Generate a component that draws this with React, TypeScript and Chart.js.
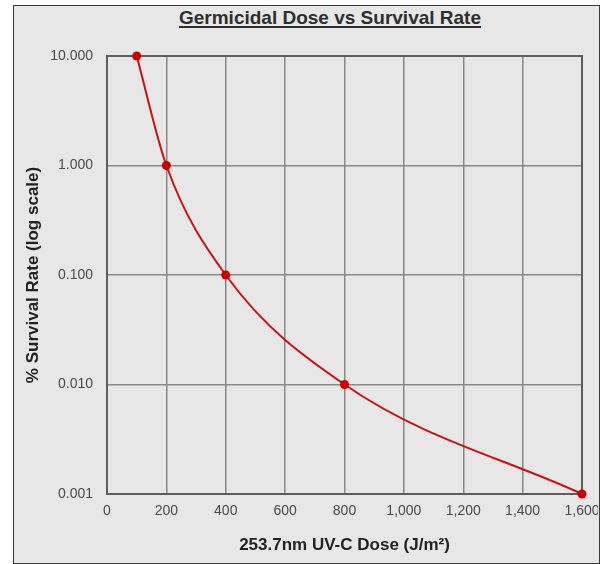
import React, { useEffect, useRef } from "react";
import { Chart, registerables } from "chart.js";

Chart.register(...registerables);

const doses = [100, 200, 400, 800, 1600];
const survival = [10, 1, 0.1, 0.01, 0.001];
const xTicks = [0, 200, 400, 600, 800, 1000, 1200, 1400, 1600];
const yTicks = [0.001, 0.01, 0.1, 1, 10];
const titleText = "Germicidal Dose vs Survival Rate";
const xTitle = "253.7nm UV-C Dose (J/m²)";
const yTitle = "% Survival Rate (log scale)";

const FONT = "'Liberation Sans', Arial, sans-serif";

const framePlugin = {
  id: "frame",
  beforeDatasetsDraw(chart: any) {
    const { ctx, chartArea } = chart;
    ctx.save();
    ctx.strokeStyle = "#5e5e5e";
    ctx.lineWidth = 2;
    ctx.strokeRect(
      chartArea.left,
      chartArea.top,
      chartArea.right - chartArea.left,
      chartArea.bottom - chartArea.top
    );
    ctx.restore();
  },
};

export default function App() {
  const ref = useRef<HTMLCanvasElement | null>(null);

  useEffect(() => {
    if (!ref.current) return;
    const chart = new Chart(ref.current, {
      type: "scatter",
      data: {
        datasets: [
          {
            data: doses.map((d, i) => ({ x: d, y: survival[i] })),
            showLine: true,
            cubicInterpolationMode: "monotone",
            borderColor: "#cc1010",
            backgroundColor: "#cc0000",
            borderWidth: 2,
            pointRadius: 4.5,
            pointBorderWidth: 0,
            pointHoverRadius: 4.5,
            clip: false,
          } as any,
        ],
      },
      options: {
        animation: false,
        responsive: false,
        devicePixelRatio: 1,
        layout: { padding: { top: 56, right: 16, left: 0, bottom: 0 } },
        plugins: {
          legend: { display: false },
          tooltip: { enabled: false },
          title: { display: false },
        },
        scales: {
          x: {
            type: "linear",
            min: 0,
            max: 1600,
            afterBuildTicks: (scale: any) => {
              scale.ticks = xTicks.map((v) => ({ value: v }));
            },
            afterFit: (scale: any) => {
              scale.height = 70;
              scale.paddingRight = 0;
              scale.paddingLeft = 0;
            },
            ticks: {
              autoSkip: false,
              maxRotation: 0,
              padding: 9,
              color: "#4a4a4a",
              font: { family: FONT, size: 14 },
              callback: (v: any) => Number(v).toLocaleString("en-US"),
            },
            grid: { color: "#888888", lineWidth: 1.5, drawTicks: false },
            border: { display: true, color: "#5e5e5e", width: 2 },
            title: {
              display: true,
              text: xTitle,
              color: "#222",
              font: { family: FONT, size: 17, weight: "bold" },
              padding: { top: 0, bottom: 8 },
            },
          },
          y: {
            type: "logarithmic",
            min: 0.001,
            max: 10,
            afterBuildTicks: (scale: any) => {
              scale.ticks = yTicks.map((v) => ({ value: v }));
            },
            afterFit: (scale: any) => {
              scale.width = 107;
            },
            ticks: {
              autoSkip: false,
              padding: 14,
              color: "#4a4a4a",
              font: { family: FONT, size: 14 },
              callback: (v: any) => Number(v).toFixed(3),
            },
            grid: { color: "#888888", lineWidth: 1.5, drawTicks: false },
            border: { display: true, color: "#5e5e5e", width: 2 },
            title: {
              display: true,
              text: yTitle,
              color: "#222",
              font: { family: FONT, size: 17, weight: "bold" },
              padding: { top: 23, bottom: 0 },
            },
          },
        },
      } as any,
      plugins: [framePlugin],
    });
    return () => chart.destroy();
  }, []);

  return (
    <div
      style={{
        position: "absolute",
        left: 0,
        top: 0,
        width: 600,
        height: 564,
        background: "#ffffff",
        overflow: "hidden",
      }}
    >
      <div
        style={{
          position: "absolute",
          left: 13,
          top: 5,
          width: 587,
          height: 559,
          boxSizing: "border-box",
          border: "1px solid #3a3a3a",
          background: "#e7e7e7",
        }}
      />
      <div
        style={{
          position: "absolute",
          left: 130,
          top: 8,
          width: 400,
          textAlign: "center",
          fontFamily: FONT,
          fontWeight: "bold",
          fontSize: 19,
          lineHeight: "19px",
          color: "#2e2e2e",
          textDecoration: "underline",
          textDecorationThickness: "2px",
          textUnderlineOffset: "2px",
        }}
      >
        {titleText}
      </div>
      <canvas
        ref={ref}
        width={598}
        height={564}
        style={{ position: "absolute", left: 0, top: 0, width: 598, height: 564 }}
      />
    </div>
  );
}
